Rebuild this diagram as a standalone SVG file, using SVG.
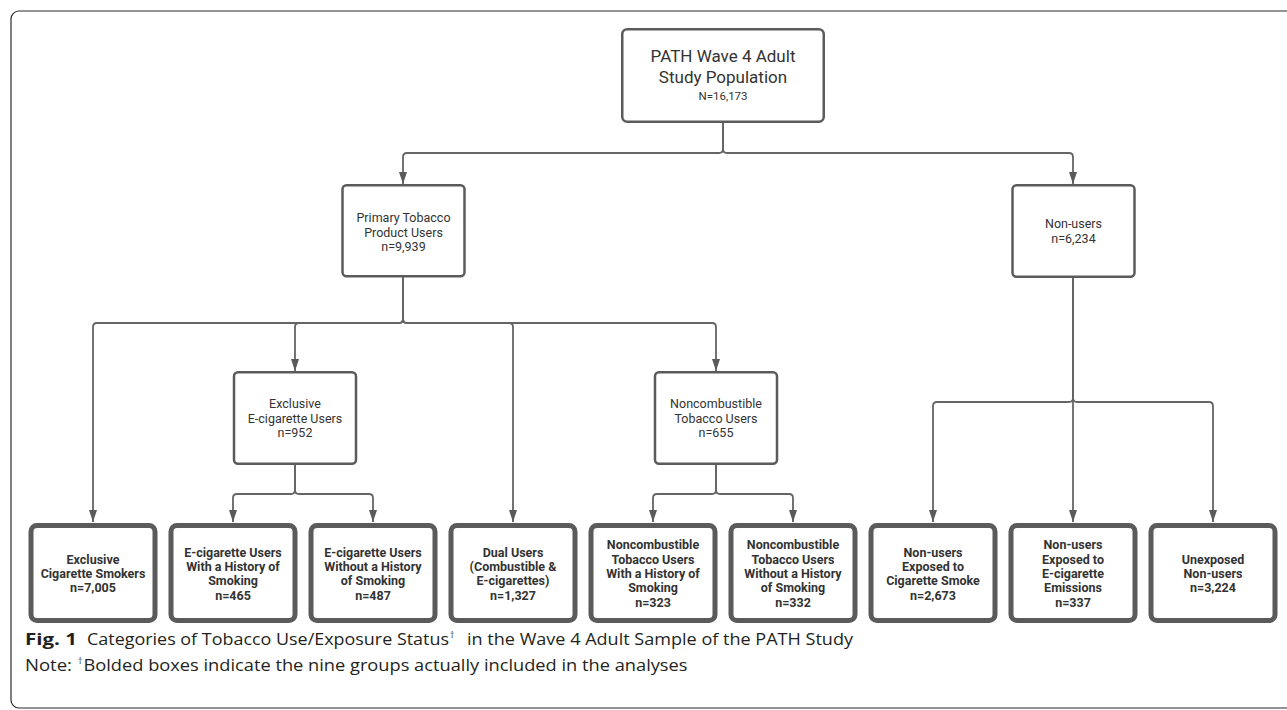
<svg xmlns="http://www.w3.org/2000/svg" width="1287" height="710" viewBox="0 0 1287 710">
<defs>
<marker id="arr" viewBox="0 0 8 12" refX="4" refY="12" markerWidth="8" markerHeight="12" markerUnits="userSpaceOnUse" orient="0">
<path d="M0,0 L8,0 L4,12 z" fill="#5a5a5a"/>
</marker>
<style>
.frame{fill:none;stroke:#2a2a2a;stroke-width:1.2}
.top{fill:#fff;stroke:#5b5b5b;stroke-width:2.5}
.mid{fill:#fff;stroke:#5b5b5b;stroke-width:2.5}
.bot{fill:#fff;stroke:#5b5b5b;stroke-width:5}
.con{fill:none;stroke:#656565;stroke-width:1.8}
.arrow{marker-end:url(#arr)}
.tt{font-family:Roboto,"Liberation Sans",sans-serif;fill:#333;text-anchor:middle}
.t1{font-size:17px}
.t2{font-size:11.5px}
.tm{font-size:12.5px}
.tb{font-size:12.5px;font-weight:bold}
.cap{font-family:"Open Sans","Liberation Sans",sans-serif;fill:#231f20;font-size:16.5px}
.sup{font-family:"Open Sans","Liberation Sans",sans-serif;fill:#231f20;font-size:8.5px}
</style>
</defs>
<path class="frame" d="M1287,11 H19 A8,8 0 0 0 11,19 V700 A8,8 0 0 0 19,708 H1287"/>

<g id="connectors">
<path class="con arrow" d="M723,123 V149 Q723,153 719,153 H407 Q403,153 403,157 V184"/>
<path class="con arrow" d="M723,123 V149 Q723,153 727,153 H1069 Q1073,153 1073,157 V184"/>
<path class="con arrow" d="M403,277 V319 Q403,323 399,323 H97 Q93,323 93,327 V522"/>
<path class="con arrow" d="M403,277 V319 Q403,323 399,323 H299 Q295,323 295,327 V371"/>
<path class="con arrow" d="M403,277 V319 Q403,323 407,323 H509 Q513,323 513,327 V522"/>
<path class="con arrow" d="M403,277 V319 Q403,323 407,323 H712 Q716,323 716,327 V371"/>
<path class="con arrow" d="M295,465 V490 Q295,494 291,494 H237 Q233,494 233,498 V522"/>
<path class="con arrow" d="M295,465 V490 Q295,494 299,494 H369 Q373,494 373,498 V522"/>
<path class="con arrow" d="M716,465 V490 Q716,494 712,494 H657 Q653,494 653,498 V522"/>
<path class="con arrow" d="M716,465 V490 Q716,494 720,494 H789 Q793,494 793,498 V522"/>
<path class="con arrow" d="M1073,278 V398 Q1073,402 1069,402 H937 Q933,402 933,406 V522"/>
<path class="con arrow" d="M1073,278 V522"/>
<path class="con arrow" d="M1073,278 V398 Q1073,402 1077,402 H1209 Q1213,402 1213,406 V522"/>
</g>

<g id="n-path">
<rect class="top" x="622.25" y="29.25" width="201.5" height="92.5" rx="5"/>
<text class="tt t1" x="723" y="62">PATH Wave 4 Adult</text>
<text class="tt t1" x="723" y="83">Study Population</text>
<text class="tt t2" x="723" y="100">N=16,173</text>
</g>

<g id="n-primary">
<rect class="mid" x="342.5" y="185.25" width="122" height="91" rx="4"/>
<text class="tt tm" x="403.5" y="222">Primary Tobacco</text>
<text class="tt tm" x="403.5" y="237">Product Users</text>
<text class="tt tm" x="403.5" y="251">n=9,939</text>
</g>

<g id="n-nonusers">
<rect class="mid" x="1012.5" y="185.25" width="122" height="91.5" rx="4"/>
<text class="tt tm" x="1073.5" y="228">Non-users</text>
<text class="tt tm" x="1073.5" y="243">n=6,234</text>
</g>

<g id="n-ecig">
<rect class="mid" x="234" y="372.25" width="122" height="91.5" rx="4"/>
<text class="tt tm" x="295" y="408">Exclusive</text>
<text class="tt tm" x="295" y="423">E-cigarette Users</text>
<text class="tt tm" x="295" y="437">n=952</text>
</g>

<g id="n-noncomb">
<rect class="mid" x="655" y="372.25" width="122" height="91.5" rx="4"/>
<text class="tt tm" x="716" y="408">Noncombustible</text>
<text class="tt tm" x="716" y="423">Tobacco Users</text>
<text class="tt tm" x="716" y="437">n=655</text>
</g>

<g id="n-cig">
<rect class="bot" x="31" y="525.5" width="124" height="95" rx="6"/>
<text class="tt tb" x="93" y="564">Exclusive</text>
<text class="tt tb" x="93" y="578">Cigarette Smokers</text>
<text class="tt tb" x="93" y="592">n=7,005</text>
</g>

<g id="n-ecig-hist">
<rect class="bot" x="171" y="525.5" width="124" height="95" rx="6"/>
<text class="tt tb" x="233" y="556.5">E-cigarette Users</text>
<text class="tt tb" x="233" y="570.8">With a History of</text>
<text class="tt tb" x="233" y="585.2">Smoking</text>
<text class="tt tb" x="233" y="599.5">n=465</text>
</g>

<g id="n-ecig-nohist">
<rect class="bot" x="311" y="525.5" width="124" height="95" rx="6"/>
<text class="tt tb" x="373" y="556.5">E-cigarette Users</text>
<text class="tt tb" x="373" y="570.8">Without a History</text>
<text class="tt tb" x="373" y="585.2">of Smoking</text>
<text class="tt tb" x="373" y="599.5">n=487</text>
</g>

<g id="n-dual">
<rect class="bot" x="451" y="525.5" width="124" height="95" rx="6"/>
<text class="tt tb" x="513" y="556.5">Dual Users</text>
<text class="tt tb" x="513" y="570.8">(Combustible &amp;</text>
<text class="tt tb" x="513" y="585.2">E-cigarettes)</text>
<text class="tt tb" x="513" y="599.5">n=1,327</text>
</g>

<g id="n-nc-hist">
<rect class="bot" x="591" y="525.5" width="124" height="95" rx="6"/>
<text class="tt tb" x="653" y="549.4">Noncombustible</text>
<text class="tt tb" x="653" y="563.7">Tobacco Users</text>
<text class="tt tb" x="653" y="578">With a History of</text>
<text class="tt tb" x="653" y="592.3">Smoking</text>
<text class="tt tb" x="653" y="606.6">n=323</text>
</g>

<g id="n-nc-nohist">
<rect class="bot" x="731" y="525.5" width="124" height="95" rx="6"/>
<text class="tt tb" x="793" y="549.4">Noncombustible</text>
<text class="tt tb" x="793" y="563.7">Tobacco Users</text>
<text class="tt tb" x="793" y="578">Without a History</text>
<text class="tt tb" x="793" y="592.3">of Smoking</text>
<text class="tt tb" x="793" y="606.6">n=332</text>
</g>

<g id="n-smoke">
<rect class="bot" x="871" y="525.5" width="124" height="95" rx="6"/>
<text class="tt tb" x="933" y="556.5">Non-users</text>
<text class="tt tb" x="933" y="570.8">Exposed to</text>
<text class="tt tb" x="933" y="585.2">Cigarette Smoke</text>
<text class="tt tb" x="933" y="599.5">n=2,673</text>
</g>

<g id="n-emis">
<rect class="bot" x="1011" y="525.5" width="124" height="95" rx="6"/>
<text class="tt tb" x="1073" y="549.4">Non-users</text>
<text class="tt tb" x="1073" y="563.7">Exposed to</text>
<text class="tt tb" x="1073" y="578">E-cigarette</text>
<text class="tt tb" x="1073" y="592.3">Emissions</text>
<text class="tt tb" x="1073" y="606.6">n=337</text>
</g>

<g id="n-unexp">
<rect class="bot" x="1151" y="525.5" width="124" height="95" rx="6"/>
<text class="tt tb" x="1213" y="564">Unexposed</text>
<text class="tt tb" x="1213" y="578">Non-users</text>
<text class="tt tb" x="1213" y="592">n=3,224</text>
</g>

<g id="caption">
<text class="cap" x="25" y="645" font-weight="bold" textLength="52" lengthAdjust="spacingAndGlyphs">Fig. 1</text>
<text class="cap" x="87" y="645" textLength="362" lengthAdjust="spacingAndGlyphs">Categories of Tobacco Use/Exposure Status</text>
<text class="sup" x="450" y="638">†</text>
<text class="cap" x="467" y="645" textLength="386" lengthAdjust="spacingAndGlyphs">in the Wave 4 Adult Sample of the PATH Study</text>
<text class="cap" x="25" y="671" textLength="47" lengthAdjust="spacingAndGlyphs">Note:</text>
<text class="sup" x="78" y="664">†</text>
<text class="cap" x="83.5" y="671" textLength="604" lengthAdjust="spacingAndGlyphs">Bolded boxes indicate the nine groups actually included in the analyses</text>
</g>
</svg>
